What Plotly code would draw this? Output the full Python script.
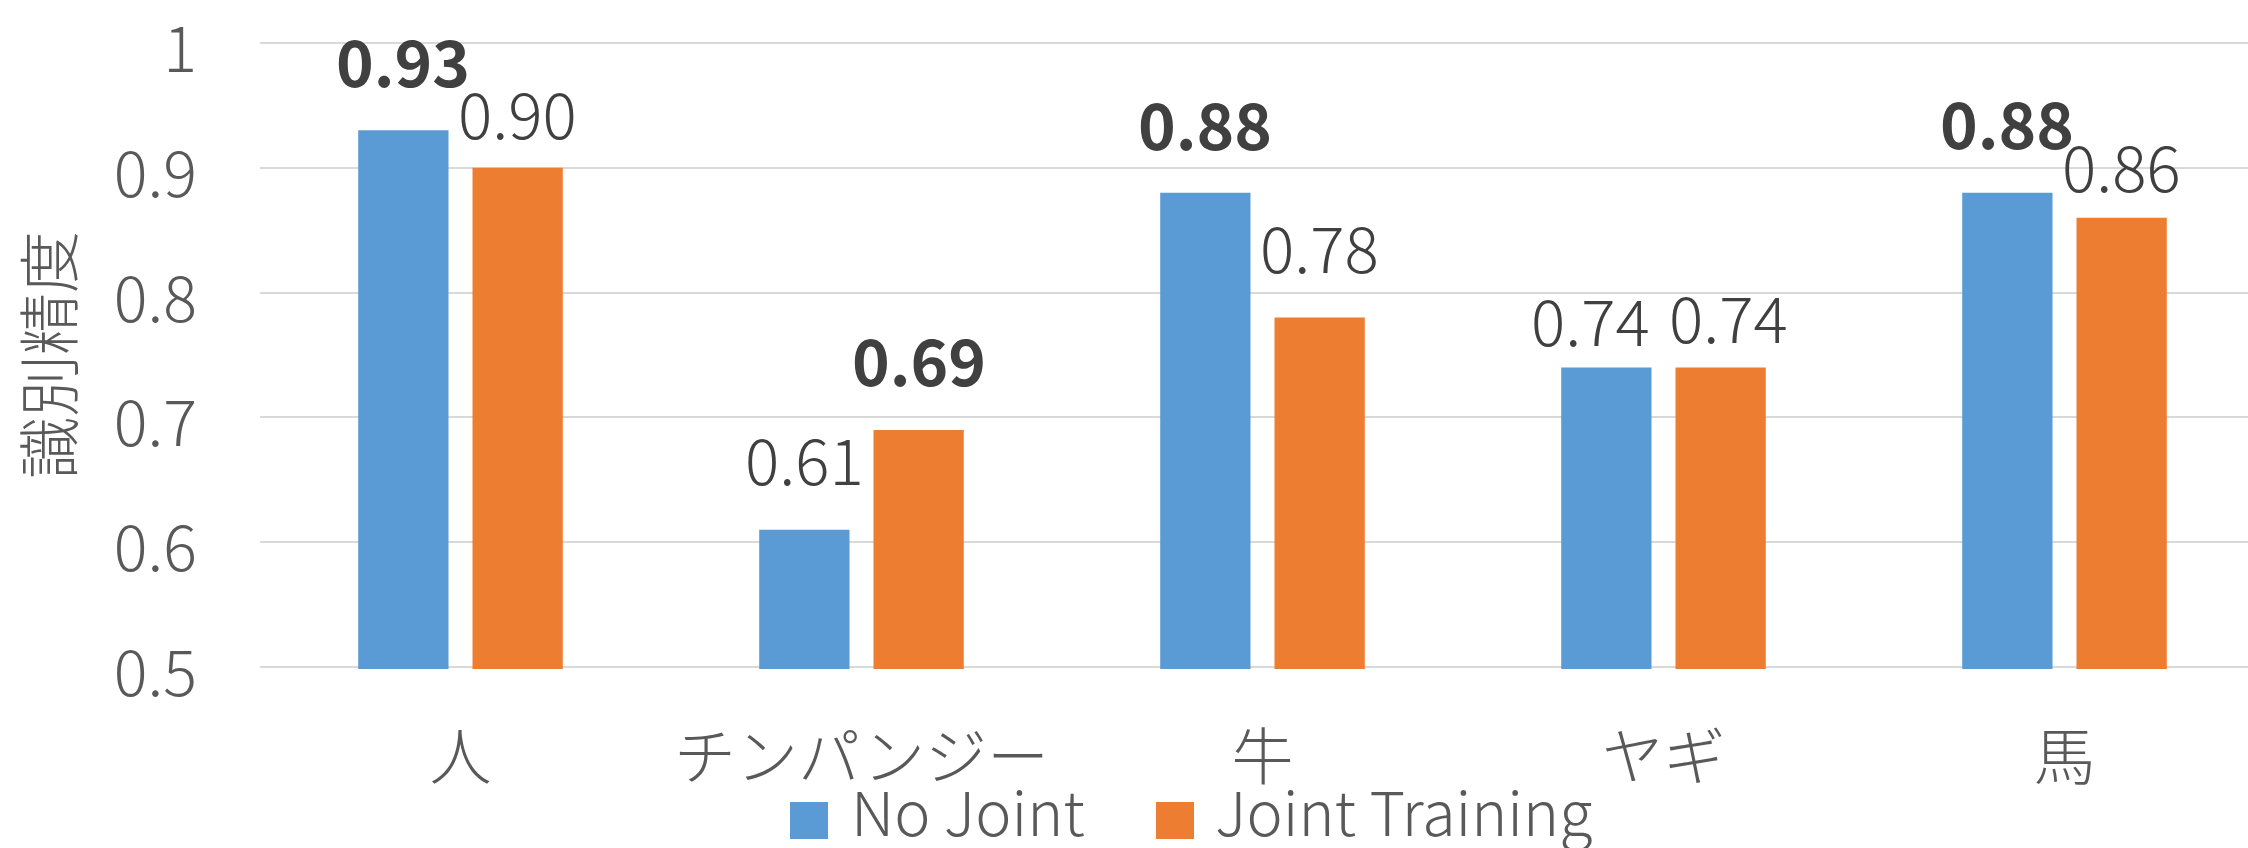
import plotly.graph_objects as go

# ---- data ----
categories = ["人", "チンパンジー", "牛", "ヤギ", "馬"]
no_joint = [0.93, 0.61, 0.88, 0.74, 0.88]
joint_training = [0.90, 0.69, 0.78, 0.74, 0.86]
series_names = ["No Joint", "Joint Training"]
y_tick_vals = [0.5, 0.6, 0.7, 0.8, 0.9, 1.0]
y_tick_text = ["0.5", "0.6", "0.7", "0.8", "0.9", "1"]
y_title = "識別精度"

# ---- style ----
colors = ["#5B9BD5", "#ED7D31"]
FONT = "Noto Sans CJK JP, Noto Sans, sans-serif"
LIGHT = 300
W, H = 2248, 848
L, R, T, B = 260, 2248, 41, 669
PX_PER_UNIT = 1250.0
EPS = 2 / PX_PER_UNIT
# label placement tweaks (pixels): gap above bar top, horizontal nudge
label_gap = [[42, 44, 42, 20, 43], [28, 43, 44, 23, 25]]
label_dx = [[0, 0, 0, -16, 0], [0, 0, 0, 8, 0]]

def pxx(px):
    return (px - L) / (R - L)

def pxy(py):
    return (B - py) / (B - T)

series = [no_joint, joint_training]
fig = go.Figure()
for i, vals in enumerate(series):
    fig.add_trace(go.Bar(
        x=categories, y=vals, name=series_names[i],
        marker=dict(color=colors[i], line=dict(width=0)),
        showlegend=False,
    ))

x_span = (R - L) / 401.0  # chart is cropped on the right
slot = (1 - 0.43) * 401 / 2

annotations = []
for i, vals in enumerate(series):
    other = series[1 - i]
    for j, v in enumerate(vals):
        bold = v > other[j]
        annotations.append(dict(
            x=categories[j], y=v, xref="x", yref="y",
            text=("<b>%.2f</b>" % v) if bold else "%.2f" % v,
            showarrow=False, yanchor="bottom", xanchor="center",
            xshift=(-slot / 2 if i == 0 else slot / 2) + label_dx[i][j],
            yshift=label_gap[i][j] - 19,
            font=dict(family=FONT, size=64, color="#404040",
                      weight=(700 if bold else LIGHT)),
        ))

# y-axis title
annotations.append(dict(
    x=pxx(46), y=pxy(355), xref="paper", yref="paper",
    text=y_title, textangle=-90, showarrow=False,
    xanchor="center", yanchor="middle",
    font=dict(family=FONT, size=62, color="#595959", weight=LIGHT),
))

# custom legend
shapes = []
leg_sq = [(790, 828), (1156, 1194)]
leg_txt_x = [849, 1213]
for i in range(2):
    shapes.append(dict(
        type="rect", xref="paper", yref="paper",
        x0=pxx(leg_sq[i][0]), x1=pxx(leg_sq[i][1]),
        y0=pxy(839), y1=pxy(802),
        fillcolor=colors[i], line=dict(width=0),
    ))
    annotations.append(dict(
        x=pxx(leg_txt_x[i]), y=pxy(809), xref="paper", yref="paper",
        text=series_names[i], showarrow=False,
        xanchor="left", yanchor="middle",
        font=dict(family=FONT, size=61, color="#595959", weight=LIGHT),
    ))

fig.update_layout(
    width=W, height=H,
    margin=dict(l=L, r=W - R, t=T, b=H - B, pad=0),
    paper_bgcolor="white", plot_bgcolor="white",
    bargap=0.43, bargroupgap=0.21, barmode="group",
    font=dict(family=FONT, color="#595959"),
    annotations=annotations, shapes=shapes,
    showlegend=False,
)
fig.update_xaxes(
    type="category", range=[-0.5, -0.5 + x_span],
    showgrid=False, showline=False, zeroline=False, ticks="",
    tickfont=dict(family=FONT, size=62, color="#595959", weight=LIGHT),
    ticklabelstandoff=48,
)
fig.update_yaxes(
    range=[y_tick_vals[0] - EPS, y_tick_vals[-1] + EPS],
    tickvals=y_tick_vals, ticktext=y_tick_text,
    showgrid=True, gridcolor="#D9D9D9", gridwidth=2,
    showline=False, zeroline=False, ticks="",
    tickfont=dict(family=FONT, size=63, color="#595959", weight=LIGHT),
    ticklabelstandoff=62, ticklabelshift=7, ticklabeloverflow="allow",
)

fig.write_html("out.html")
